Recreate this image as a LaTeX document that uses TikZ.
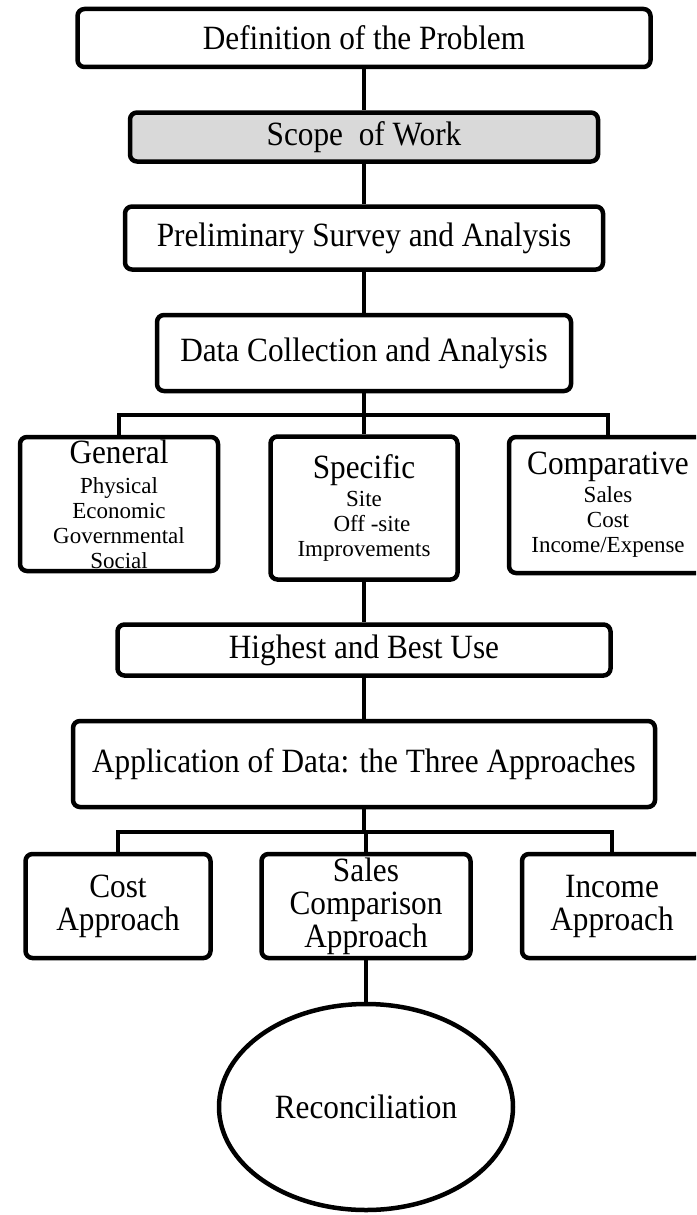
\documentclass[tikz,border=0pt]{standalone}
\usepackage{fontspec}
\setmainfont{Liberation Serif}[FakeStretch=0.92]
\newfontfamily\subfont{Liberation Serif}
\usetikzlibrary{shapes.geometric}
\newcommand{\mainsize}{\fontsize{34}{33}\selectfont}
\newcommand{\headtxt}{\normalfont\mainsize}
\newcommand{\subtxt}{\subfont\fontsize{23}{25}\selectfont}
\begin{document}
\begin{tikzpicture}[
		x=1pt, y=-1pt,
		line width=4.5pt,
		font=\headtxt,
		stage/.style={draw, rounded corners=7pt, align=center, inner sep=0pt},
		shaded/.style={stage, fill=black!15},
		finish/.style={draw, ellipse, inner sep=0pt}
	]
	\clip (0,0) rectangle (696,1215);
	\node[stage, minimum width=573pt, minimum height=58pt] (problem) at (364,38) {Definition of the Problem};
	\node[shaded, minimum width=468pt, minimum height=49pt] (scope) at (364,137) {Scope\ \ of Work};
	\node[stage, minimum width=478pt, minimum height=63pt] (survey) at (364,238) {Preliminary Survey and Analysis};
	\node[stage, minimum width=414pt, minimum height=76pt] (collect) at (364,353) {Data Collection and Analysis};

	\node[stage, font=\subtxt, minimum width=198pt, minimum height=134pt] (general) at (119,504)
		{{\headtxt General}\\[5pt] Physical\\ Economic\\ Governmental\\ Social};
	\node[stage, font=\subtxt, minimum width=187pt, minimum height=143pt] (specific) at (364,508)
		{{\headtxt Specific}\\[3pt] Site\\ \hspace*{16pt}Off -site\\ Improvements};
	\node[stage, font=\subtxt, minimum width=198pt, minimum height=136pt] (compar) at (608,505)
		{{\headtxt Comparative}\\[3pt] Sales\\ Cost\\ Income/Expense};

	\node[stage, minimum width=493pt, minimum height=51pt] (hbu) at (364,650) {Highest and Best Use};
	\node[stage, minimum width=582pt, minimum height=86pt] (apply) at (364,764) {Application of Data: the Three Approaches};

	\node[stage, minimum width=185pt, minimum height=104pt] (cost) at (118,906) {Cost\\ Approach};
	\node[stage, minimum width=209pt, minimum height=104pt] (sales) at (366,906) {Sales\\ Comparison\\ Approach};
	\node[stage, minimum width=180pt, minimum height=104pt] (income) at (612,906) {Income\\ Approach};

	\node[finish, minimum width=294pt, minimum height=206pt] (recon) at (366,1107) {Reconciliation};

	\coordinate (fork1) at (364,415);
	\coordinate (fork2) at (364,832);

	\draw (problem.south) -- (scope.north);
	\draw (scope.south) -- (survey.north);
	\draw (survey.south) -- (collect.north);
	\draw (collect.south) -- (fork1);
	\draw (general.north) |- (fork1) -| (compar.north);
	\draw (fork1) -- (specific.north);
	\draw (specific.south) -- (hbu.north);
	\draw (hbu.south) -- (apply.north);
	\draw (apply.south) -- (fork2);
	\draw (cost.north) |- (fork2) -| (income.north);
	\draw (sales.north) -- (sales.north |- fork2);
	\draw (sales.south) -- (recon.north);
\end{tikzpicture}
\end{document}
